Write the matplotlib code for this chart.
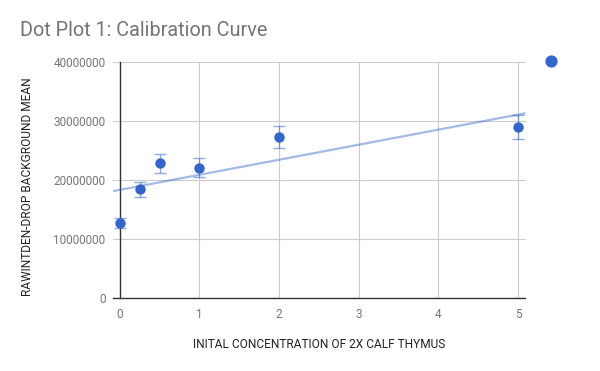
import numpy as np
import matplotlib
matplotlib.use("Agg")
import matplotlib.pyplot as plt
import matplotlib.transforms as mtransforms
from matplotlib.lines import Line2D

plt.rcParams['font.family'] = ['Roboto', 'DejaVu Sans']

concentration = [0, 0.25, 0.5, 1, 2, 5]
mean_values = [12700000, 18400000, 22800000, 22100000, 27300000, 29000000]
error_values = [900000, 1200000, 1600000, 1550000, 1900000, 2000000]
y_ticks = [0, 10000000, 20000000, 30000000, 40000000]
x_ticks = [0, 1, 2, 3, 4, 5]

title = "Dot Plot 1: Calibration Curve"
x_title = "INITAL CONCENTRATION OF 2X CALF THYMUS"
y_title = "RAWINTDEN-DROP BACKGROUND MEAN"

blue = '#3366cc'

fig = plt.figure(figsize=(6, 3.71), dpi=100)
ax = fig.add_axes([113/600, 1-298/371, (525.5-113)/600, (298-62)/371])

xmin, xmax = -0.085, 5.095
ax.set_xlim(xmin, xmax)
ax.set_ylim(0, 40000000)

# trendline (least squares)
slope, intercept = np.polyfit(concentration, mean_values, 1)
xs = np.array([xmin, xmax])
ax.plot(xs, slope*xs + intercept, color=blue, alpha=0.45, lw=1.6, zorder=3,
        solid_capstyle='butt')

ax.errorbar(concentration, mean_values, yerr=error_values, fmt='none',
            ecolor=blue, alpha=0.55, elinewidth=1.0, capsize=4.2, capthick=1.0,
            zorder=4)
ax.plot(concentration, mean_values, 'o', color=blue, ms=7.5, mec=blue,
        mew=0, zorder=5, clip_on=False)

ax.set_xticks(x_ticks)
ax.set_yticks(y_ticks)
ax.ticklabel_format(axis='y', style='plain', useOffset=False)
ax.grid(True, color='#cccccc', lw=0.8, zorder=0)
ax.set_axisbelow(True)
ax.tick_params(length=0, labelsize=8.5, labelcolor='#757575')
ax.tick_params(axis='x', pad=7)
ax.tick_params(axis='y', pad=5)

for s in ['top', 'right']:
    ax.spines[s].set_visible(False)
ax.spines['left'].set_position(('data', 0))
ax.spines['left'].set_color('#333333')
ax.spines['left'].set_linewidth(1.0)
ax.spines['bottom'].set_color('#333333')
ax.spines['bottom'].set_linewidth(1.0)

# y tick labels sit at the left of the chart area, not at the spine
offset = mtransforms.ScaledTranslation(-(120.3-113)/100, 0, fig.dpi_scale_trans)
for lbl in ax.get_yticklabels():
    lbl.set_transform(lbl.get_transform() + offset)

fig.text(20/600, 1-31/371, title, fontsize=14.3, color='#757575',
         ha='left', va='center')
fig.text(319/600, 1-344/371, x_title, fontsize=8.6, color='#222222',
         ha='center', va='center')
fig.text(28/600, 1-187/371, y_title, fontsize=8.6, color='#222222',
         ha='center', va='center', rotation=90)

h = Line2D([], [], marker='o', color=blue, ls='none', ms=8.8, mew=0)
leg = ax.legend(handles=[h], labels=[''], loc='center',
                bbox_to_anchor=(551/600, 1-62/371), bbox_transform=fig.transFigure,
                frameon=False, handlelength=1.0, handletextpad=0, borderpad=0,
                borderaxespad=0)

fig.savefig('out.png', dpi=100)
